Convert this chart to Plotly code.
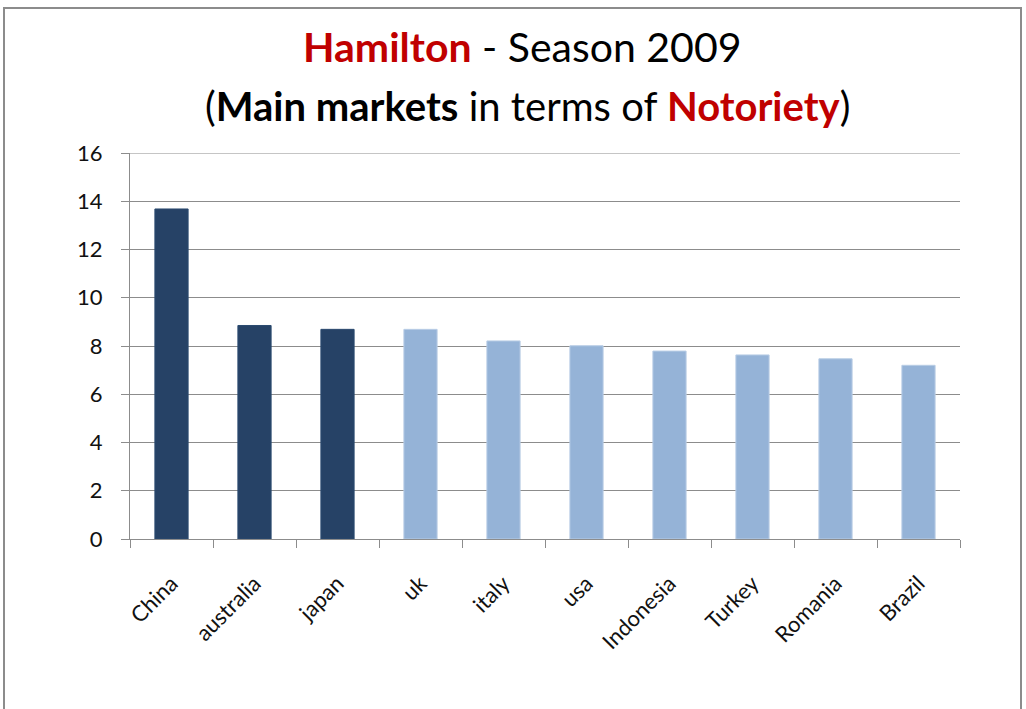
import plotly.graph_objects as go

# Notoriety scores by market, season 2009
markets = ["China", "australia", "japan", "uk", "italy", "usa",
           "Indonesia", "Turkey", "Romania", "Brazil"]
notoriety = [13.68, 8.85, 8.69, 8.69, 8.21, 8.01, 7.79, 7.63, 7.47, 7.20]
top_markets = ["China", "australia", "japan"]
y_ticks = [0, 2, 4, 6, 8, 10, 12, 14, 16]

DARK = "#264266"
LIGHT = "#95B3D7"
FONT = "Lato"
GRID = "#8C8C8C"

colors = [DARK if m in top_markets else LIGHT for m in markets]
edges = ["#2B4A70" if m in top_markets else "#B9CDE5" for m in markets]

fig = go.Figure(go.Bar(
    x=markets, y=notoriety, width=0.4,
    marker=dict(color=colors, line=dict(color=edges, width=1)),
))

W, H = 1026, 709
L, R, T, B = 130, 66, 153, 170
pw = W - L - R
ph = H - T - B


def px_x(x):
    return (x - L) / pw


def px_y(y):
    return (H - B - y) / ph


fig.update_layout(
    width=W, height=H,
    margin=dict(l=L, r=R, t=T, b=B),
    paper_bgcolor="white", plot_bgcolor="white",
    showlegend=False,
    font=dict(family=FONT, color="#000000"),
    xaxis=dict(
        type="category", tickson="boundaries", ticks="outside",
        ticklen=8, tickcolor=GRID, showgrid=False,
        showline=True, linecolor=GRID, linewidth=1,
        tickangle=-45, tickfont=dict(size=22, family=FONT, color="#111111"),
        ticklabelstandoff=22,
    ),
    yaxis=dict(
        range=[0, 16], tickvals=y_ticks, ticks="outside", ticklen=8,
        tickcolor=GRID, showgrid=True, gridcolor=GRID,
        gridwidth=1, showline=True, linecolor=GRID, zeroline=False,
        tickfont=dict(size=22, family=FONT, color="#111111"),
        ticklabelstandoff=14,
    ),
    annotations=[
        dict(
            text="<span style='color:#C00000'><b>Hamilton</b></span> - Season 2009",
            xref="paper", yref="paper", x=px_x(522), y=px_y(47),
            xanchor="center", yanchor="middle", showarrow=False,
            font=dict(size=41, family=FONT, color="#000000"),
        ),
        dict(
            text="(<b>Main markets</b> in terms of "
                 "<span style='color:#C00000'><b>Notoriety</b></span>)",
            xref="paper", yref="paper", x=px_x(527), y=px_y(106),
            xanchor="center", yanchor="middle", showarrow=False,
            font=dict(size=40, family=FONT, color="#000000"),
        ),
    ],
    shapes=[
        # top gridline at the range edge
        dict(type="line", xref="paper", yref="y", x0=px_x(122), x1=1,
             y0=16, y1=16, line=dict(color=GRID, width=1)),
        # outer chart frame
        dict(type="rect", xref="paper", yref="paper",
             x0=px_x(4), x1=px_x(1021), y0=px_y(715), y1=px_y(8),
             line=dict(color=GRID, width=2), layer="below"),
    ],
)

fig.write_html("out.html")
